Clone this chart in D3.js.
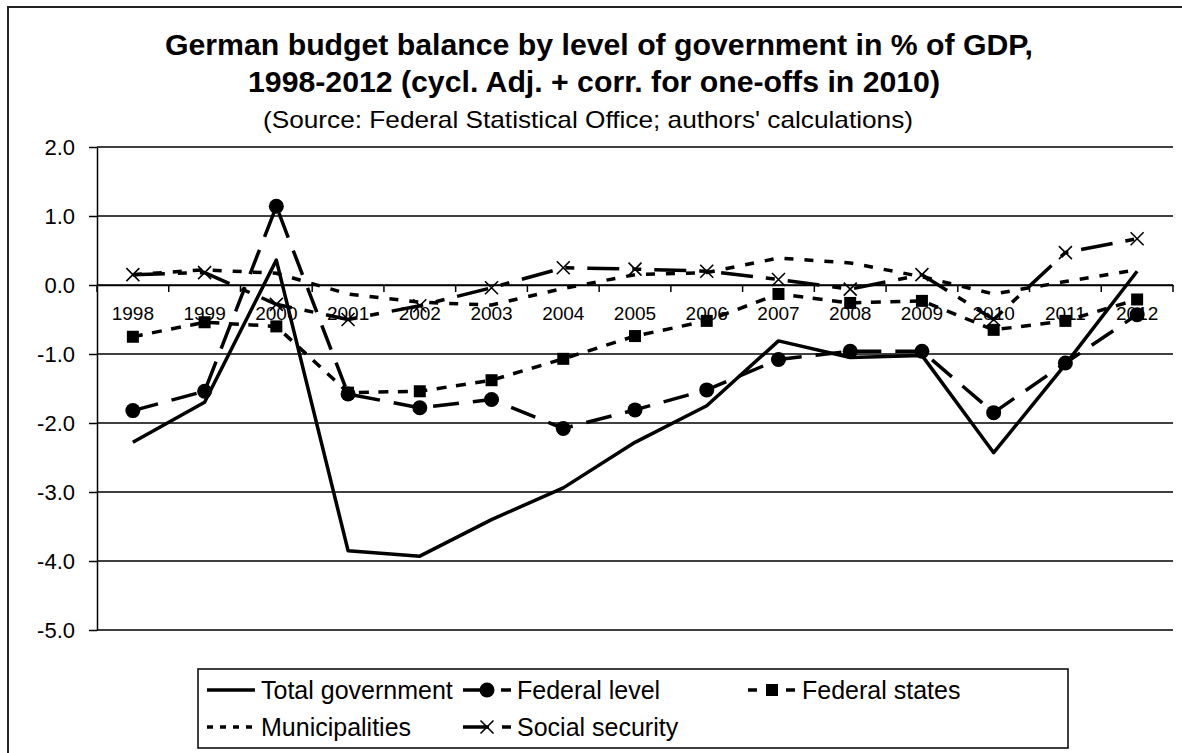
<!DOCTYPE html>
<html>
<head>
<meta charset="utf-8">
<script src="https://cdn.jsdelivr.net/npm/d3@7"></script>
<style>
  html, body { margin: 0; padding: 0; background: #fff; }
  svg { display: block; font-family: "Liberation Sans", Arial, sans-serif; }
</style>
</head>
<body>
<svg id="chart" width="1182" height="753"></svg>
<script>
const years = ["1998","1999","2000","2001","2002","2003","2004","2005","2006","2007","2008","2009","2010","2011","2012"];
const yTicks = [-5, -4, -3, -2, -1, 0, 1, 2];
const totalGovernment = [-2.28,-1.70,0.36,-3.85,-3.93,-3.40,-2.94,-2.28,-1.75,-0.81,-1.05,-1.02,-2.43,-1.15,0.20];
const federalLevel    = [-1.82,-1.54,1.14,-1.58,-1.78,-1.66,-2.08,-1.81,-1.52,-1.08,-0.96,-0.96,-1.85,-1.13,-0.43];
const federalStates   = [-0.75,-0.54,-0.60,-1.56,-1.54,-1.38,-1.07,-0.74,-0.52,-0.13,-0.26,-0.23,-0.65,-0.52,-0.21];
const municipalities  = [0.15,0.22,0.17,-0.13,-0.25,-0.29,-0.05,0.15,0.18,0.39,0.32,0.12,-0.13,0.05,0.22];
const socialSecurity  = [0.15,0.18,-0.28,-0.50,-0.30,-0.04,0.25,0.23,0.20,0.08,-0.06,0.15,-0.50,0.47,0.67];
const seriesNames = ["Total government","Federal level","Federal states","Municipalities","Social security"];

const series = [
  {name: seriesNames[0], values: totalGovernment, dash: null, legendDash: null, marker: "none", legendOffset: 0},
  {name: seriesNames[1], values: federalLevel, dash: "26,14", legendDash: "26,14", marker: "circle", legendOffset: 2},
  {name: seriesNames[2], values: federalStates, dash: "10,9.5", legendDash: "9,10", marker: "square", legendOffset: 0},
  {name: seriesNames[3], values: municipalities, dash: "9,11", legendDash: "6,7", marker: "none", legendOffset: 0},
  {name: seriesNames[4], values: socialSecurity, dash: "32,13,9,13", legendDash: "32,13,9,13", marker: "x", legendOffset: 6}
];

const svg = d3.select("#chart");
const L = 97, R = 1173, T = 147, B = 630;
const x = d3.scaleBand().domain(years).range([L, R]);
const y = d3.scaleLinear().domain([-5, 2]).range([B, T]);
const cx = d => x(d) + x.bandwidth() / 2;

// outer frame
svg.append("rect").attr("x", 8).attr("y", 7).attr("width", 1200).attr("height", 800)
  .attr("fill", "none").attr("stroke", "#222").attr("stroke-width", 2);

// title
const title = svg.append("g").attr("text-anchor", "middle").attr("fill", "#000");
title.append("text").attr("x", 599).attr("y", 55).attr("font-size", 29).attr("font-weight", "bold")
  .attr("textLength", 868).attr("lengthAdjust", "spacingAndGlyphs")
  .text("German budget balance by level of government in % of GDP,");
title.append("text").attr("x", 594).attr("y", 92).attr("font-size", 29).attr("font-weight", "bold")
  .attr("textLength", 692).attr("lengthAdjust", "spacingAndGlyphs")
  .text("1998-2012 (cycl. Adj. + corr. for one-offs in 2010)");
title.append("text").attr("x", 588).attr("y", 128).attr("font-size", 24)
  .attr("textLength", 650).attr("lengthAdjust", "spacingAndGlyphs")
  .text("(Source: Federal Statistical Office; authors' calculations)");

// gridlines
svg.append("g").selectAll("line").data(yTicks).join("line")
  .attr("x1", L).attr("x2", R).attr("y1", d => y(d)).attr("y2", d => y(d))
  .attr("stroke", "#000").attr("stroke-width", 1.5);

// y axis
const yAxis = svg.append("g").attr("transform", `translate(${L},0)`)
  .call(d3.axisLeft(y).tickValues(yTicks).tickFormat(d => d.toFixed(1)).tickSize(8).tickPadding(14).tickSizeOuter(0));
yAxis.select(".domain").attr("stroke", "#000").attr("stroke-width", 1.5);
yAxis.selectAll(".tick line").attr("stroke", "#000").attr("stroke-width", 1.5);
yAxis.selectAll("text").attr("font-size", 22).attr("fill", "#000").attr("font-family", "Liberation Sans, Arial, sans-serif");

// x axis at zero
const xAxis = svg.append("g").attr("transform", `translate(0,${y(0)})`)
  .call(d3.axisBottom(x).tickSize(0).tickPadding(22).tickSizeOuter(0));
xAxis.select(".domain").attr("stroke", "#000").attr("stroke-width", 1.5);
xAxis.selectAll("text").attr("font-size", 19).attr("fill", "#000").attr("font-family", "Liberation Sans, Arial, sans-serif");
const bounds = years.map(d => x(d)).concat([x.range()[1]]);
svg.append("g").selectAll("line").data(bounds).join("line")
  .attr("x1", d => d).attr("x2", d => d).attr("y1", y(0)).attr("y2", y(0) + 7)
  .attr("stroke", "#000").attr("stroke-width", 1.5);

// series
const line = d3.line().x((d, i) => cx(years[i])).y(d => y(d));
function drawMarker(g, type, px, py) {
  if (type === "circle") {
    g.append("circle").attr("cx", px).attr("cy", py).attr("r", 7.5).attr("fill", "#000");
  } else if (type === "square") {
    g.append("rect").attr("x", px - 6).attr("y", py - 6).attr("width", 12).attr("height", 12).attr("fill", "#000");
  } else if (type === "x") {
    const s = 6.5;
    g.append("path").attr("d", `M${px - s},${py - s}L${px + s},${py + s}M${px - s},${py + s}L${px + s},${py - s}`)
      .attr("stroke", "#000").attr("stroke-width", 1.6).attr("fill", "none");
  }
}
series.forEach(s => {
  const g = svg.append("g");
  g.append("path").attr("d", line(s.values)).attr("fill", "none").attr("stroke", "#000")
    .attr("stroke-width", 3.5).attr("stroke-dasharray", s.dash).attr("stroke-linejoin", "round");
  s.values.forEach((v, i) => drawMarker(g, s.marker, cx(years[i]), y(v)));
});

// legend
const lg = svg.append("g");
lg.append("rect").attr("x", 198).attr("y", 669).attr("width", 870).attr("height", 79)
  .attr("fill", "#fff").attr("stroke", "#000").attr("stroke-width", 1.5);
const legendPos = [[207, 690], [463, 690], [748, 690], [207, 727], [463, 727]];
series.forEach((s, i) => {
  const [lx, ly] = legendPos[i];
  const g = lg.append("g");
  g.append("line").attr("x1", lx).attr("x2", lx + 48).attr("y1", ly).attr("y2", ly)
    .attr("stroke", "#000").attr("stroke-width", 3.5).attr("stroke-dasharray", s.legendDash)
    .attr("stroke-dashoffset", s.legendOffset);
  drawMarker(g, s.marker, lx + 24, ly);
  g.append("text").attr("x", lx + 54).attr("y", ly).attr("dy", "0.35em")
    .attr("font-size", 25).attr("fill", "#000").text(s.name);
});
</script>
</body>
</html>
